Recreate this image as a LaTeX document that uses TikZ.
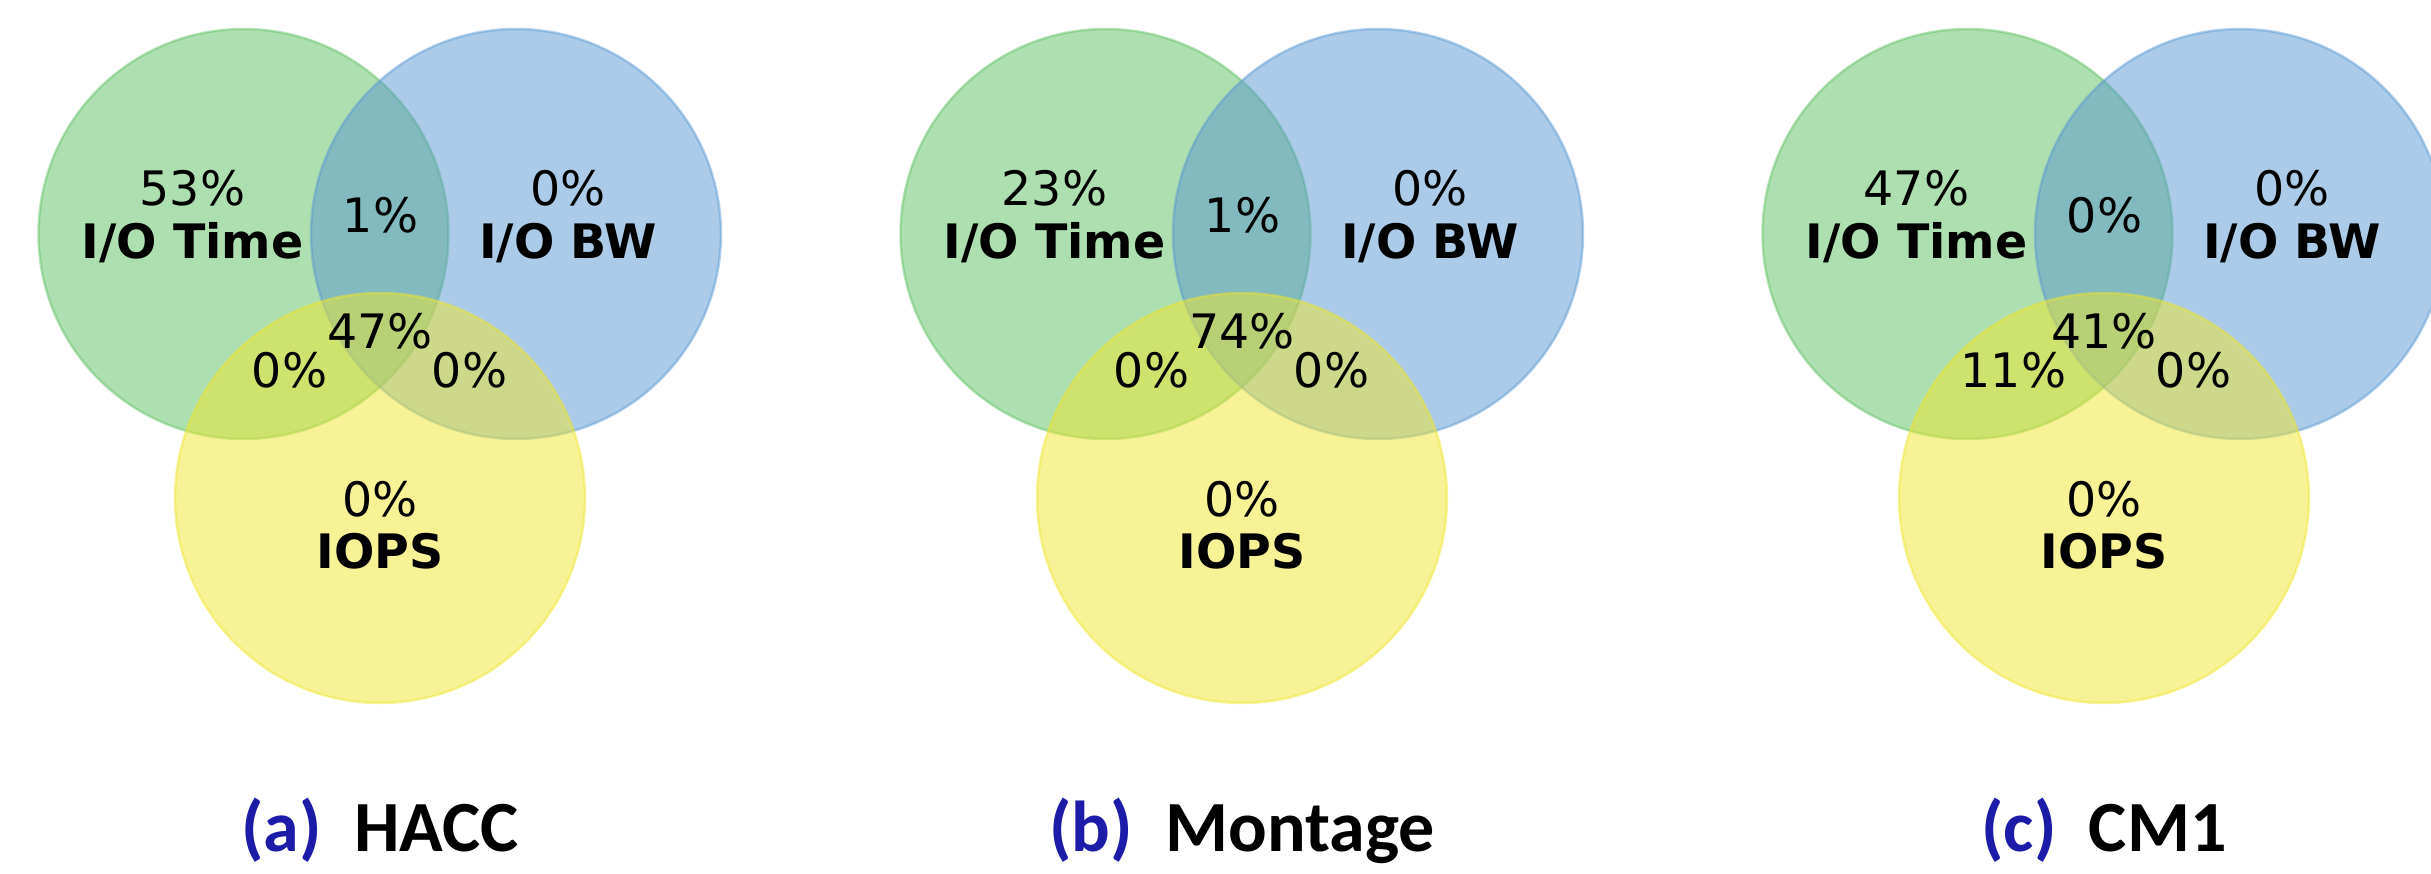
\documentclass[tikz,border=0pt]{standalone}
\usepackage{fontspec}
\usepackage{tikz}
\newfontfamily\lblfont{DejaVu Sans}
\newfontfamily\capfont{Carlito}
\definecolor{vgreen}{RGB}{93,191,97}
\definecolor{vblue}{RGB}{87,151,209}
\definecolor{vyellow}{RGB}{239,229,45}
\definecolor{capblue}{RGB}{28,28,168}

\begin{document}
\begin{tikzpicture}[x=0.1mm,y=-0.1mm,
	vset/.style={fill opacity=0.5,draw opacity=0.45,line width=0.25mm},
	pct/.style={inner sep=0,anchor=base,font=\lblfont\fontsize{13.5pt}{16pt}\selectfont},
	setname/.style={inner sep=0,anchor=base,font=\lblfont\bfseries\fontsize{13.5pt}{16pt}\selectfont},
	subcap/.style={inner sep=0,anchor=base,font=\capfont\bfseries\fontsize{20.5pt}{24pt}\selectfont}]
	\useasboundingbox (0,0) rectangle (2431,874);
	% (a) HACC
	\draw[vset,fill=vgreen,draw=vgreen] (243.5,234) circle (20.5mm);
	\draw[vset,fill=vblue,draw=vblue] (516,234) circle (20.5mm);
	\draw[vset,fill=vyellow,draw=vyellow] (380,498) circle (20.5mm);
	\node (tAv) [pct] at (192.5,205.5) {53\%};
	\node (tA) [setname] at (192.5,258.5) {I/O Time};
	\node (bAv) [pct] at (568,205.5) {0\%};
	\node (bA) [setname] at (568,258.5) {I/O BW};
	\node (tbA) [pct] at (380.5,232.5) {1\%};
	\node (allA) [pct] at (380,349) {47\%};
	\node (tiA) [pct] at (289.5,387.5) {0\%};
	\node (biA) [pct] at (469.5,387.5) {0\%};
	\node (iAv) [pct] at (380,516) {0\%};
	\node (iA) [setname] at (380,568) {IOPS};
	\node (capA) [subcap] at (380,851) {\textcolor{capblue}{(a)}\hspace{0.45em}HACC};
	% (b) Montage
	\begin{scope}[xshift=86.2mm]
	\draw[vset,fill=vgreen,draw=vgreen] (243.5,234) circle (20.5mm);
	\draw[vset,fill=vblue,draw=vblue] (516,234) circle (20.5mm);
	\draw[vset,fill=vyellow,draw=vyellow] (380,498) circle (20.5mm);
	\node (tBv) [pct] at (192.5,205.5) {23\%};
	\node (tB) [setname] at (192.5,258.5) {I/O Time};
	\node (bBv) [pct] at (568,205.5) {0\%};
	\node (bB) [setname] at (568,258.5) {I/O BW};
	\node (tbB) [pct] at (380.5,232.5) {1\%};
	\node (allB) [pct] at (380,349) {74\%};
	\node (tiB) [pct] at (289.5,387.5) {0\%};
	\node (biB) [pct] at (469.5,387.5) {0\%};
	\node (iBv) [pct] at (380,516) {0\%};
	\node (iB) [setname] at (380,568) {IOPS};
	\node (capB) [subcap] at (380,851) {\textcolor{capblue}{(b)}\hspace{0.45em}Montage};
	\end{scope}
	% (c) CM1
	\begin{scope}[xshift=172.4mm]
	\draw[vset,fill=vgreen,draw=vgreen] (243.5,234) circle (20.5mm);
	\draw[vset,fill=vblue,draw=vblue] (516,234) circle (20.5mm);
	\draw[vset,fill=vyellow,draw=vyellow] (380,498) circle (20.5mm);
	\node (tCv) [pct] at (192.5,205.5) {47\%};
	\node (tC) [setname] at (192.5,258.5) {I/O Time};
	\node (bCv) [pct] at (568,205.5) {0\%};
	\node (bC) [setname] at (568,258.5) {I/O BW};
	\node (tbC) [pct] at (380.5,232.5) {0\%};
	\node (allC) [pct] at (380,349) {41\%};
	\node (tiC) [pct] at (289.5,387.5) {11\%};
	\node (biC) [pct] at (469.5,387.5) {0\%};
	\node (iCv) [pct] at (380,516) {0\%};
	\node (iC) [setname] at (380,568) {IOPS};
	\node (capC) [subcap] at (380,851) {\textcolor{capblue}{(c)}\hspace{0.45em}CM1};
	\end{scope}
\end{tikzpicture}
\end{document}
